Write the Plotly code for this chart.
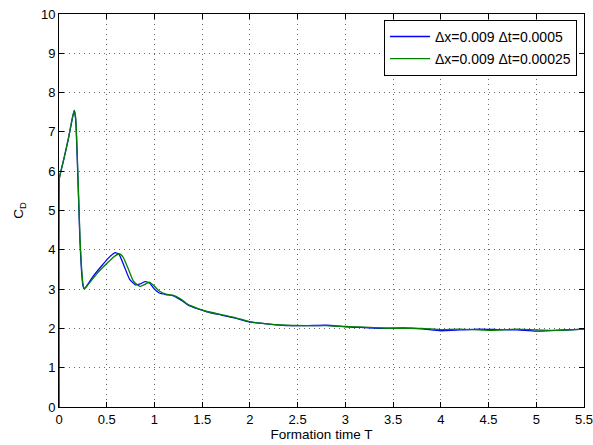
import plotly.graph_objects as go

# Drag coefficient history, run with dt = 0.0005
t_a = [0.0, 0.003, 0.01, 0.05, 0.1, 0.14, 0.16, 0.175, 0.19, 0.205, 0.22, 0.235, 0.25, 0.26,
       0.28, 0.35, 0.45, 0.53, 0.59, 0.63, 0.68, 0.74, 0.8, 0.85, 0.9, 0.95, 1.0, 1.05,
       1.12, 1.2, 1.28, 1.35, 1.45, 1.55, 1.7, 1.85, 2.0, 2.2, 2.4, 2.6, 2.8, 3.0, 3.2,
       3.4, 3.6, 3.8, 4.0, 4.2, 4.4, 4.6, 4.8, 5.0, 5.2, 5.4, 5.5]
cd_a = [0.0, 5.8, 5.9, 6.3, 6.85, 7.35, 7.55, 7.3, 6.4, 5.3, 4.2, 3.5, 3.1, 3.02,
        3.05, 3.3, 3.6, 3.82, 3.93, 3.88, 3.6, 3.25, 3.11, 3.13, 3.19, 3.15, 3.0, 2.9,
        2.86, 2.83, 2.72, 2.6, 2.5, 2.42, 2.34, 2.26, 2.16, 2.11, 2.07, 2.07, 2.08, 2.04, 2.02,
        2.0, 2.01, 1.99, 1.94, 1.96, 1.98, 1.97, 1.96, 1.93, 1.95, 1.97, 1.98]

# Drag coefficient history, run with dt = 0.00025
t_b = [0.0, 0.003, 0.01, 0.05, 0.1, 0.14, 0.16, 0.175, 0.19, 0.205, 0.22, 0.235, 0.25, 0.265,
       0.3, 0.4, 0.5, 0.58, 0.63, 0.67, 0.72, 0.78, 0.85, 0.9, 0.945, 0.99, 1.05,
       1.12, 1.2, 1.28, 1.35, 1.45, 1.55, 1.7, 1.85, 2.0, 2.2, 2.4, 2.6, 2.8, 3.0, 3.2,
       3.4, 3.6, 3.8, 4.0, 4.2, 4.5, 4.8, 5.0, 5.2, 5.4, 5.5]
cd_b = [0.0, 5.8, 5.9, 6.3, 6.85, 7.35, 7.55, 7.35, 6.5, 5.4, 4.3, 3.6, 3.15, 3.0,
        3.1, 3.4, 3.65, 3.83, 3.9, 3.82, 3.55, 3.2, 3.07, 3.12, 3.18, 3.1, 2.95,
        2.87, 2.84, 2.74, 2.61, 2.51, 2.43, 2.35, 2.27, 2.17, 2.11, 2.08, 2.07, 2.07, 2.05, 2.03,
        2.01, 2.0, 2.0, 1.97, 1.98, 1.95, 1.98, 1.96, 1.95, 1.97, 1.98]

labels = ["\u0394x=0.009 \u0394t=0.0005", "\u0394x=0.009 \u0394t=0.00025"]
colors = ["#0000ff", "#008000"]

x_ticks = [0, 0.5, 1, 1.5, 2, 2.5, 3, 3.5, 4, 4.5, 5, 5.5]
y_ticks = list(range(0, 11))

fig = go.Figure()
for i, (t, cd, name, c) in enumerate([(t_a, cd_a, labels[0], colors[0]),
                                      (t_b, cd_b, labels[1], colors[1])]):
    fig.add_trace(go.Scatter(x=t, y=cd, mode="lines", name=name, legendgroup=f"g{i}",
                             line=dict(color=c, width=1.3, shape="spline", smoothing=0.5)))

axis_common = dict(
    showline=True, linecolor="black", linewidth=1, mirror="ticks",
    ticks="inside", ticklen=5, tickcolor="black",
    showgrid=True, gridcolor="#6a6a6a", griddash="1px,4px", gridwidth=1,
    zeroline=False, tickfont=dict(size=13, color="black"), automargin=False,
    ticklabeloverflow="allow",
)

fig.update_layout(
    width=593, height=445,
    margin=dict(l=59, r=9, t=14, b=38),
    paper_bgcolor="white", plot_bgcolor="white",
    font=dict(family="Liberation Sans, Arial, sans-serif", size=13, color="black"),
    xaxis=dict(range=[0, 5.5], tickvals=x_ticks, ticktext=[f"{v:g}" for v in x_ticks],
               title=dict(text="Formation time T", standoff=0, font=dict(size=13.5)),
               **axis_common),
    yaxis=dict(range=[0, 10], tickvals=y_ticks,
               title=dict(text="C<sub>D</sub>", standoff=14, font=dict(size=13.5)),
               **axis_common),
    legend=dict(x=0.9867, y=0.985, xanchor="right", yanchor="top",
                bgcolor="white", bordercolor="black", borderwidth=1,
                font=dict(size=14), tracegroupgap=1, itemwidth=40),
    showlegend=True,
)

fig.write_html("out.html")
